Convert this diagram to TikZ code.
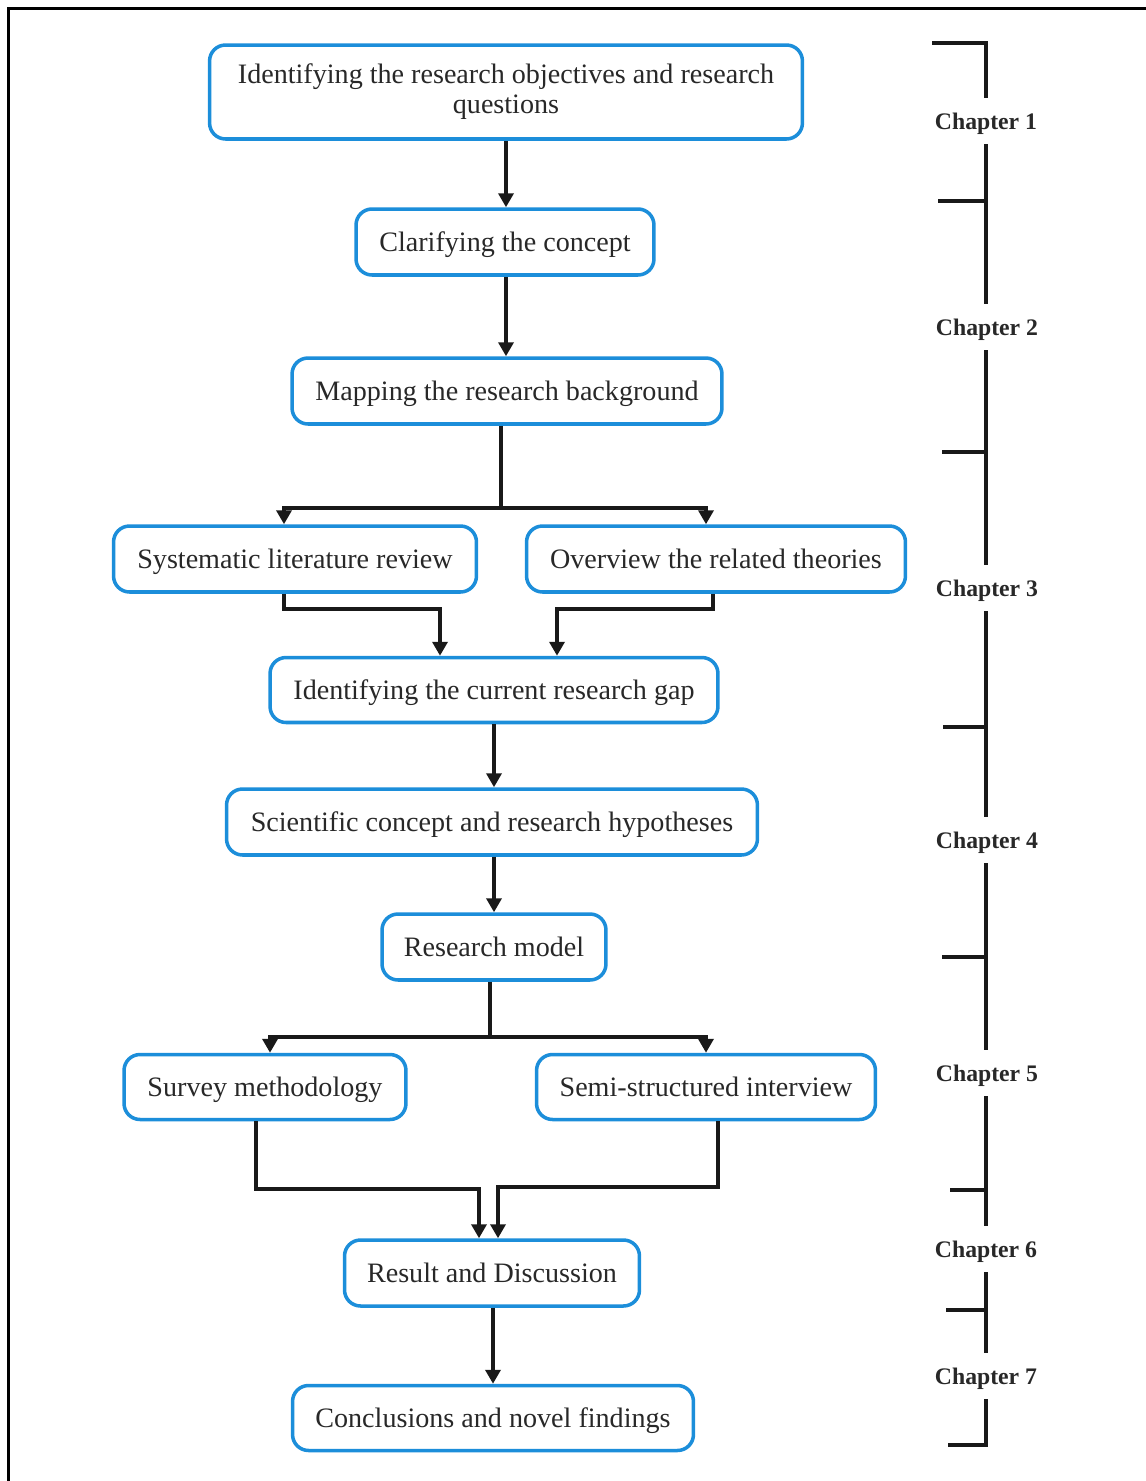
\documentclass[tikz,border=0pt]{standalone}
\usepackage{fontspec}
\setmainfont{Liberation Serif}
\usetikzlibrary{arrows.meta}
\definecolor{boxblue}{RGB}{28,142,218}
\definecolor{txt}{RGB}{40,40,40}
\tikzset{
  stepbox/.style={draw=boxblue, line width=2pt, rounded corners=0.32cm, fill=white,
    align=center, inner sep=0pt, text=txt, font=\fontsize{16}{17}\selectfont},
  onel/.style={text depth=0pt},
  arr/.style={draw=black!90, line width=2pt, -{Triangle[width=0.3cm,length=0.28cm]}},
  ln/.style={draw=black!90, line width=2pt},
  brk/.style={draw=black!90, line width=2pt},
  chap/.style={fill=white, inner xsep=1pt, minimum height=0.92cm, text depth=0pt, text=txt,
    font=\fontsize{13.5}{16}\selectfont\bfseries},
}
\begin{document}
\begin{tikzpicture}[x=0.02cm,y=-0.02cm]
\useasboundingbox (0,0) rectangle (1146,1481);
% frame
\draw[line width=2pt] (8.5,1481) -- (8.5,8.5) -- (1146,8.5);

% nodes
\node[stepbox, minimum width=11.86cm, minimum height=1.88cm] (n1) at (506,92)
  {Identifying the research objectives and research\\questions};
\node[stepbox, onel, minimum width=5.96cm, minimum height=1.32cm] (n2) at (505,242) {Clarifying the concept};
\node[stepbox, onel, minimum width=8.6cm, minimum height=1.32cm] (n3) at (507,391) {Mapping the research background};
\node[stepbox, onel, minimum width=7.26cm, minimum height=1.32cm] (n4) at (295,559) {Systematic literature review};
\node[stepbox, onel, minimum width=7.58cm, minimum height=1.32cm] (n5) at (716,559) {Overview the related theories};
\node[stepbox, onel, minimum width=8.96cm, minimum height=1.3cm] (n6) at (494,690) {Identifying the current research gap};
\node[stepbox, onel, minimum width=10.62cm, minimum height=1.32cm] (n7) at (492,822) {Scientific concept and research hypotheses};
\node[stepbox, onel, minimum width=4.48cm, minimum height=1.32cm] (n8) at (494,947) {Research model};
\node[stepbox, onel, minimum width=5.64cm, minimum height=1.3cm] (n9) at (265,1087) {Survey methodology};
\node[stepbox, onel, minimum width=6.78cm, minimum height=1.3cm] (n10) at (706,1087) {Semi-structured interview};
\node[stepbox, onel, minimum width=5.9cm, minimum height=1.32cm] (n11) at (492,1273) {Result and Discussion};
\node[stepbox, onel, minimum width=8.02cm, minimum height=1.3cm] (n12) at (493,1418) {Conclusions and novel findings};

% helper coordinates
\coordinate (c1) at (506,0);
\coordinate (j3) at (501,508);
\coordinate (a4) at (284,0);
\coordinate (a5) at (706,0);
\coordinate (b4) at (284,609);
\coordinate (d4) at (440,0);
\coordinate (b5) at (713,609);
\coordinate (d5) at (557,0);
\coordinate (c6) at (494,0);
\coordinate (j8) at (490,1037);
\coordinate (a9) at (270,0);
\coordinate (a10) at (706,0);
\coordinate (b9) at (256,1189);
\coordinate (d9) at (479,0);
\coordinate (b10) at (718,1187);
\coordinate (d10) at (498,0);
\coordinate (c11) at (493,0);

% connectors
\draw[arr] (n1.south -| c1) -- (n2.north -| c1);
\draw[arr] (n2.south -| c1) -- (n3.north -| c1);
\draw[ln] (n3.south -| j3) -- (j3);
\draw[arr] (j3) -| (n4.north -| a4);
\draw[arr] (j3) -| (n5.north -| a5);
\draw[arr] (n4.south -| b4) -- (b4) -| (n6.north -| d4);
\draw[arr] (n5.south -| b5) -- (b5) -| (n6.north -| d5);
\draw[arr] (n6.south -| c6) -- (n7.north -| c6);
\draw[arr] (n7.south -| c6) -- (n8.north -| c6);
\draw[ln] (n8.south -| j8) -- (j8);
\draw[arr] (j8) -| (n9.north -| a9);
\draw[arr] (j8) -| (n10.north -| a10);
\draw[arr] (n9.south -| b9) -- (b9) -| (n11.north -| d9);
\draw[arr] (n10.south -| b10) -- (b10) -| (n11.north -| d10);
\draw[arr] (n11.south -| c11) -- (n12.north -| c11);

% chapter bracket
\coordinate (bt) at (986,43);
\coordinate (bb) at (986,1445);
\draw[brk, line cap=rect] (934,43) -- (bt) -- (bb) -- (950,1445);
\draw[brk] (938,201) -- (986,201);
\draw[brk] (942,452) -- (986,452);
\draw[brk] (943,727) -- (986,727);
\draw[brk] (942,957) -- (986,957);
\draw[brk] (950,1190) -- (986,1190);
\draw[brk] (946,1310) -- (986,1310);

\node[chap] (ch1) at (986,121) {Chapter 1};
\node[chap] (ch2) at (987,327) {Chapter 2};
\node[chap] (ch3) at (987,588) {Chapter 3};
\node[chap] (ch4) at (987,840) {Chapter 4};
\node[chap] (ch5) at (987,1073) {Chapter 5};
\node[chap] (ch6) at (986,1249) {Chapter 6};
\node[chap] (ch7) at (986,1376) {Chapter 7};
\end{tikzpicture}
\end{document}
